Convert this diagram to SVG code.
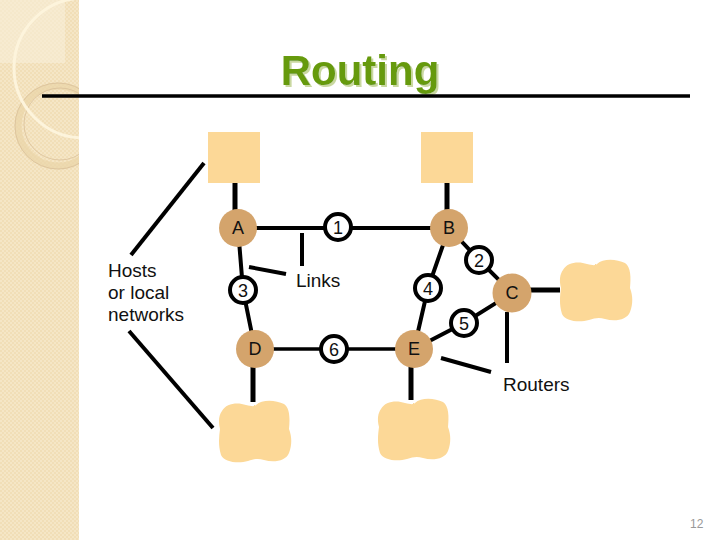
<svg xmlns="http://www.w3.org/2000/svg" width="720" height="540" viewBox="0 0 720 540">
<style>
.lbl{font-family:"Liberation Sans",Arial,sans-serif;font-size:19px;fill:#111}
.rt{fill:#d4a46c}
.rtx{font-family:"Liberation Sans",Arial,sans-serif;font-size:18px;fill:#111;text-anchor:middle}
.lk{fill:#fff;stroke:#000;stroke-width:4}
.lkx{font-family:"Liberation Sans",Arial,sans-serif;font-size:18px;fill:#111;text-anchor:middle}
.host{fill:#fcd897}
.ln{stroke:#000;stroke-width:4;fill:none;stroke-linecap:butt}
.thick{stroke:#000;stroke-width:5;fill:none}
</style>
<defs>
<pattern id="chk" width="4" height="4" patternUnits="userSpaceOnUse">
<rect width="4" height="4" fill="#f1deb7"/>
<rect width="2" height="2" fill="#f5e6c6"/>
<rect x="2" y="2" width="2" height="2" fill="#f5e6c6"/>
</pattern>
<path id="cloud" d="M4,12 C8,4 20,3 28,6 C33,7 36,8 38,6 C44,0 58,1 66,5 C72,9 72,20 71,30 C74,38 74,46 71,54 C68,62 56,64 46,61 C40,59 36,60 30,62 C20,65 6,63 3,56 C0,46 1,38 2,30 C0,22 1,16 4,12 Z"/>
<clipPath id="side"><rect x="0" y="0" width="79" height="540"/></clipPath>
<filter id="shadow" x="-10%" y="-20%" width="130%" height="150%">
<feDropShadow dx="2" dy="2" stdDeviation="0.6" flood-color="#c9d8a0" flood-opacity="1"/>
</filter>
</defs>
<rect width="720" height="540" fill="#fff"/>
<g id="sidebar">
<rect x="0" y="0" width="79" height="540" fill="url(#chk)"/>
<g clip-path="url(#side)">
<rect x="0" y="0" width="65" height="63" fill="#f8eed8" opacity="0.6"/>
<circle cx="58" cy="126" r="40" fill="none" stroke="#ead4a6" stroke-width="7" opacity="0.7"/>
<circle cx="58" cy="126" r="43" fill="none" stroke="#d9c09a" stroke-width="0.8"/>
<circle cx="60" cy="124" r="36" fill="none" stroke="#d9c09a" stroke-width="0.8"/>
<circle cx="84" cy="68" r="70" fill="none" stroke="#fdf4dc" stroke-width="3"/>
</g>
</g>
<g id="title">
<text x="360" y="85" text-anchor="middle" font-family="'Liberation Sans',Arial,sans-serif" font-size="42" font-weight="bold" fill="#669a0c" filter="url(#shadow)">Routing</text>
<line x1="42" y1="96" x2="690" y2="96" stroke="#000" stroke-width="3.5"/>
</g>
<g id="connectors">
<line class="thick" x1="235" y1="183" x2="235" y2="215"/>
<line class="thick" x1="447" y1="183" x2="447" y2="215"/>
<line class="thick" x1="520" y1="290" x2="560" y2="290"/>
<line class="thick" x1="253" y1="355" x2="253" y2="402"/>
<line class="thick" x1="411" y1="355" x2="411" y2="400"/>
<line class="ln" x1="238" y1="228" x2="449" y2="228"/>
<polyline class="ln" points="238,228 243,290 255,349"/>
<polyline class="ln" points="449,228 428,288 414,349"/>
<polyline class="ln" points="449,228 479,260 512,293"/>
<polyline class="ln" points="414,349 464,323 512,293"/>
<line x1="255" y1="349" x2="414" y2="349" stroke="#000" stroke-width="3.5"/>
<line class="ln" x1="131" y1="255" x2="204" y2="163"/>
<line class="ln" x1="129" y1="331" x2="213" y2="428"/>
<line class="ln" x1="302" y1="233" x2="302" y2="266"/>
<line class="ln" x1="249" y1="267" x2="286" y2="274"/>
<line class="ln" x1="507" y1="312" x2="507" y2="363"/>
<line class="ln" x1="441" y1="358" x2="491" y2="372"/>
</g>
<g id="host-a"><rect class="host" x="208" y="132" width="52" height="51"/></g>
<g id="host-b"><rect class="host" x="421" y="132" width="52" height="51"/></g>
<g id="host-c"><use href="#cloud" class="host" transform="translate(559,258)"/></g>
<g id="host-d"><use href="#cloud" class="host" transform="translate(218,399)"/></g>
<g id="host-e"><use href="#cloud" class="host" transform="translate(377,397)"/></g>
<g id="router-a"><circle class="rt" cx="238" cy="228" r="19"/><text class="rtx" x="238" y="234">A</text></g>
<g id="router-b"><circle class="rt" cx="449" cy="228" r="19"/><text class="rtx" x="449" y="234">B</text></g>
<g id="router-c"><circle class="rt" cx="512" cy="293" r="19.5"/><text class="rtx" x="512" y="299">C</text></g>
<g id="router-d"><circle class="rt" cx="255" cy="349" r="19"/><text class="rtx" x="255" y="355">D</text></g>
<g id="router-e"><circle class="rt" cx="414" cy="349" r="19"/><text class="rtx" x="414" y="355">E</text></g>
<g id="link-1"><circle class="lk" cx="338" cy="227" r="13"/><text class="lkx" x="338" y="233.5">1</text></g>
<g id="link-2"><circle class="lk" cx="479" cy="260" r="13"/><text class="lkx" x="479" y="266.5">2</text></g>
<g id="link-3"><circle class="lk" cx="243" cy="290" r="13"/><text class="lkx" x="243" y="296.5">3</text></g>
<g id="link-4"><circle class="lk" cx="428" cy="288" r="13"/><text class="lkx" x="428" y="294.5">4</text></g>
<g id="link-5"><circle class="lk" cx="464" cy="323" r="13"/><text class="lkx" x="464" y="329.5">5</text></g>
<g id="link-6"><circle class="lk" cx="334" cy="349" r="13"/><text class="lkx" x="334" y="355.5">6</text></g>
<g id="labels">
<text class="lbl" x="108" y="277">Hosts</text>
<text class="lbl" x="108" y="299">or local</text>
<text class="lbl" x="108" y="321">networks</text>
<text class="lbl" x="296" y="287">Links</text>
<text class="lbl" x="503" y="391">Routers</text>
<text x="690" y="528" font-family="'Liberation Sans',Arial,sans-serif" font-size="12" fill="#999">12</text>
</g>
</svg>
